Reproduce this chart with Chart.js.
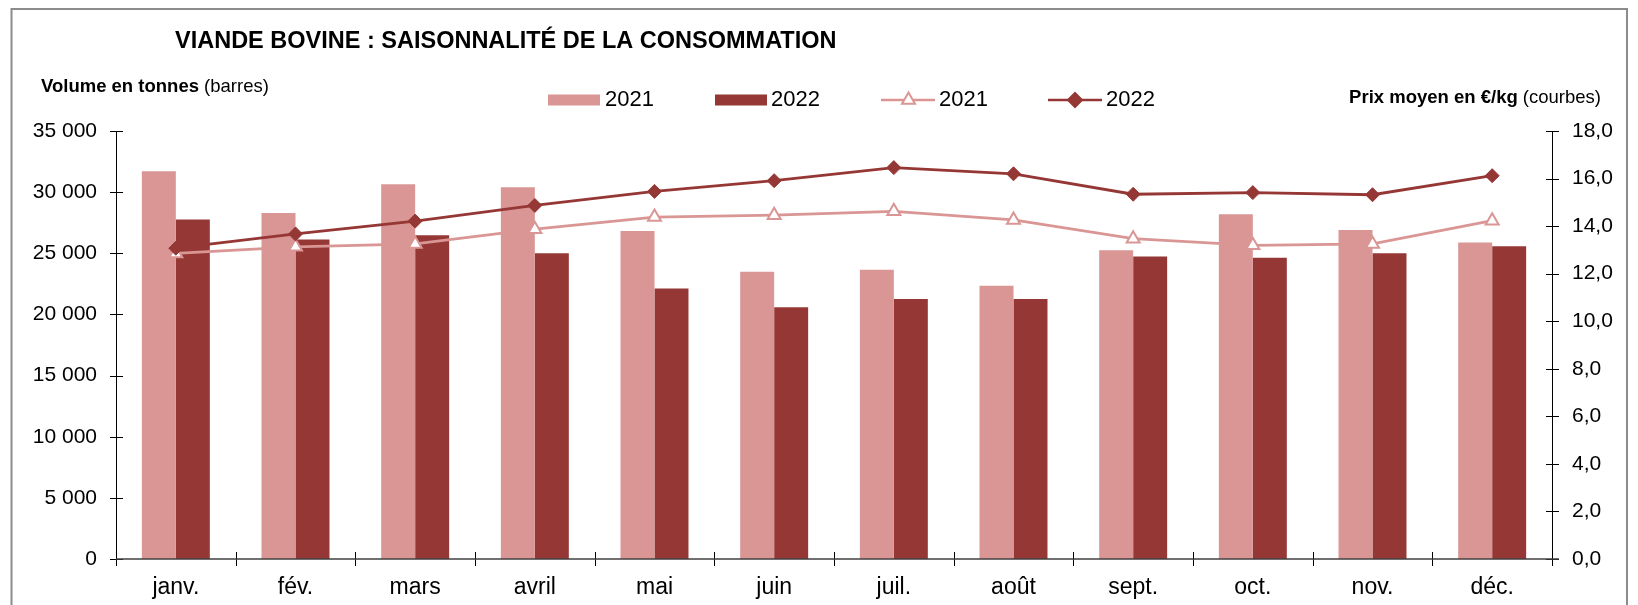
<!DOCTYPE html>
<html>
<head>
<meta charset="utf-8">
<script src="https://cdn.jsdelivr.net/npm/chart.js@4/dist/chart.umd.min.js"></script>
<style>
  html, body { margin: 0; padding: 0; background: #fff; }
</style>
</head>
<body>
<canvas id="chart" width="1638" height="605"></canvas>
<script>
// Data
const months = ['janv.', 'fév.', 'mars', 'avril', 'mai', 'juin', 'juil.', 'août', 'sept.', 'oct.', 'nov.', 'déc.'];
const volume2021 = [31700, 28300, 30650, 30400, 26830, 23500, 23650, 22350, 25250, 28200, 26900, 25880];
const volume2022 = [27760, 26130, 26480, 25000, 22130, 20580, 21260, 21260, 24740, 24630, 25000, 25570];
const price2021 = [12.85, 13.13, 13.25, 13.87, 14.38, 14.46, 14.62, 14.26, 13.47, 13.19, 13.25, 14.23];
const price2022 = [13.07, 13.67, 14.21, 14.87, 15.46, 15.91, 16.46, 16.20, 15.34, 15.41, 15.32, 16.12];
const volumeTicks = [0, 5000, 10000, 15000, 20000, 25000, 30000, 35000];
const priceTicks = [0, 2, 4, 6, 8, 10, 12, 14, 16, 18];

const PINK = '#D99694';
const DARK = '#953735';
const FONT = "'Liberation Sans', Arial, sans-serif";

const fmtVolume = v => String(v).replace(/\B(?=(\d{3})+(?!\d))/g, ' ');
const fmtPrice = v => v.toFixed(1).replace('.', ',');

// text, frame, axes with crossing ticks, legend
const decorations = {
  id: 'decorations',
  afterDraw(chart) {
    const { ctx, chartArea: a, scales } = chart;
    const { y, y1 } = scales;
    ctx.save();

    // outer frame
    ctx.strokeStyle = '#8c8c8c';
    ctx.lineWidth = 2;
    ctx.strokeRect(11.5, 9, 1627 - 11.5, 700);

    // axis lines
    ctx.strokeStyle = '#000';
    ctx.lineWidth = 1;
    ctx.beginPath();
    ctx.moveTo(Math.round(a.left) + 0.5, a.top);
    ctx.lineTo(Math.round(a.left) + 0.5, a.bottom);
    ctx.moveTo(Math.round(a.right) + 0.5, a.top);
    ctx.lineTo(Math.round(a.right) + 0.5, a.bottom);
    volumeTicks.forEach(v => {
      const py = Math.round(y.getPixelForValue(v)) + 0.5;
      ctx.moveTo(a.left - 6, py);
      ctx.lineTo(a.left + 7, py);
    });
    priceTicks.forEach(v => {
      const py = Math.round(y1.getPixelForValue(v)) + 0.5;
      ctx.moveTo(a.right - 6, py);
      ctx.lineTo(a.right + 7, py);
    });
    const step = (a.right - a.left) / months.length;
    for (let i = 0; i <= months.length; i++) {
      const px = Math.round(a.left + i * step) + 0.5;
      ctx.moveTo(px, a.bottom - 7);
      ctx.lineTo(px, a.bottom + 7);
    }
    ctx.stroke();

    ctx.strokeStyle = '#404040';
    ctx.lineWidth = 1.5;
    ctx.beginPath();
    ctx.moveTo(a.left, a.bottom);
    ctx.lineTo(a.right + 7, a.bottom);
    ctx.stroke();

    // title
    ctx.fillStyle = '#000';
    ctx.textBaseline = 'middle';
    ctx.textAlign = 'left';
    ctx.font = `bold 23.5px ${FONT}`;
    ctx.fillText('VIANDE BOVINE : SAISONNALITÉ DE LA CONSOMMATION', 175, 42);

    // axis titles (bold part + normal part)
    const mixed = (bold, normal, xStart, yMid, alignRight) => {
      ctx.font = `bold 18.5px ${FONT}`;
      const wb = ctx.measureText(bold).width;
      ctx.font = `18.5px ${FONT}`;
      const wn = ctx.measureText(normal).width;
      const x0 = alignRight ? xStart - wb - wn : xStart;
      ctx.font = `bold 18.5px ${FONT}`;
      ctx.fillText(bold, x0, yMid);
      ctx.font = `18.5px ${FONT}`;
      ctx.fillText(normal, x0 + wb, yMid);
    };
    mixed('Volume en tonnes', ' (barres)', 41, 87, false);
    mixed('Prix moyen en €/kg', ' (courbes)', 1601, 98, true);

    // legend
    const ly = 100;
    ctx.font = `22px ${FONT}`;
    ctx.fillStyle = PINK;
    ctx.fillRect(548, ly - 5.5, 52, 11);
    ctx.fillStyle = DARK;
    ctx.fillRect(715, ly - 5.5, 52, 11);
    ctx.fillStyle = '#000';
    ctx.fillText('2021', 605, ly);
    ctx.fillText('2022', 771, ly);

    ctx.lineWidth = 2.5;
    ctx.strokeStyle = PINK;
    ctx.beginPath(); ctx.moveTo(881, ly); ctx.lineTo(935, ly); ctx.stroke();
    ctx.strokeStyle = DARK;
    ctx.beginPath(); ctx.moveTo(1048, ly); ctx.lineTo(1102, ly); ctx.stroke();

    ctx.lineWidth = 2;
    ctx.strokeStyle = PINK;
    ctx.fillStyle = '#fff';
    Chart.helpers.drawPoint(ctx, { pointStyle: 'triangle', radius: 7.5, borderWidth: 2 }, 908.5, ly);
    ctx.strokeStyle = DARK;
    ctx.fillStyle = DARK;
    Chart.helpers.drawPoint(ctx, { pointStyle: 'rectRot', radius: 7, borderWidth: 1 }, 1075, ly);

    ctx.fillStyle = '#000';
    ctx.fillText('2021', 939, ly);
    ctx.fillText('2022', 1106, ly);

    ctx.restore();
  }
};

new Chart(document.getElementById('chart'), {
  type: 'bar',
  data: {
    labels: months,
    datasets: [
      {
        type: 'line',
        label: '2021 prix',
        data: price2021,
        yAxisID: 'y1',
        borderColor: PINK,
        borderWidth: 2.8,
        pointStyle: 'triangle',
        pointRadius: 7.5,
        pointBorderWidth: 2,
        pointBackgroundColor: '#fff',
        pointBorderColor: PINK,
        tension: 0,
        order: 1
      },
      {
        type: 'line',
        label: '2022 prix',
        data: price2022,
        yAxisID: 'y1',
        borderColor: DARK,
        borderWidth: 2.8,
        pointStyle: 'rectRot',
        pointRadius: 7,
        pointBorderWidth: 1,
        pointBackgroundColor: DARK,
        pointBorderColor: DARK,
        tension: 0,
        order: 0
      },
      {
        label: '2021',
        data: volume2021,
        yAxisID: 'y',
        backgroundColor: PINK,
        categoryPercentage: 0.568,
        barPercentage: 1,
        order: 2
      },
      {
        label: '2022',
        data: volume2022,
        yAxisID: 'y',
        backgroundColor: DARK,
        categoryPercentage: 0.568,
        barPercentage: 1,
        order: 3
      }
    ]
  },
  options: {
    responsive: false,
    animation: false,
    events: [],
    layout: { padding: { top: 131, left: 0, right: 0, bottom: 0 } },
    plugins: {
      legend: { display: false },
      title: { display: false },
      tooltip: { enabled: false }
    },
    scales: {
      x: {
        grid: { display: false, drawTicks: false },
        border: { display: false },
        ticks: { color: '#000', font: { family: FONT, size: 23 }, padding: 15, maxRotation: 0 },
        afterFit(s) { s.height = 46; s.paddingLeft = 0; s.paddingRight = 0; }
      },
      y: {
        position: 'left',
        min: 0,
        max: 35000,
        grid: { display: false, drawTicks: false },
        border: { display: false },
        afterBuildTicks(s) { s.ticks = volumeTicks.map(v => ({ value: v })); },
        ticks: { color: '#000', font: { family: FONT, size: 21 }, padding: 19, callback: fmtVolume },
        afterFit(s) { s.width = 116; s.paddingTop = 0; s.paddingBottom = 0; }
      },
      y1: {
        position: 'right',
        min: 0,
        max: 18,
        grid: { display: false, drawTicks: false },
        border: { display: false },
        afterBuildTicks(s) { s.ticks = priceTicks.map(v => ({ value: v })); },
        ticks: { color: '#000', font: { family: FONT, size: 21 }, padding: 20, callback: fmtPrice },
        afterFit(s) { s.width = 86; s.paddingTop = 0; s.paddingBottom = 0; }
      }
    }
  },
  plugins: [decorations]
});
</script>
</body>
</html>
